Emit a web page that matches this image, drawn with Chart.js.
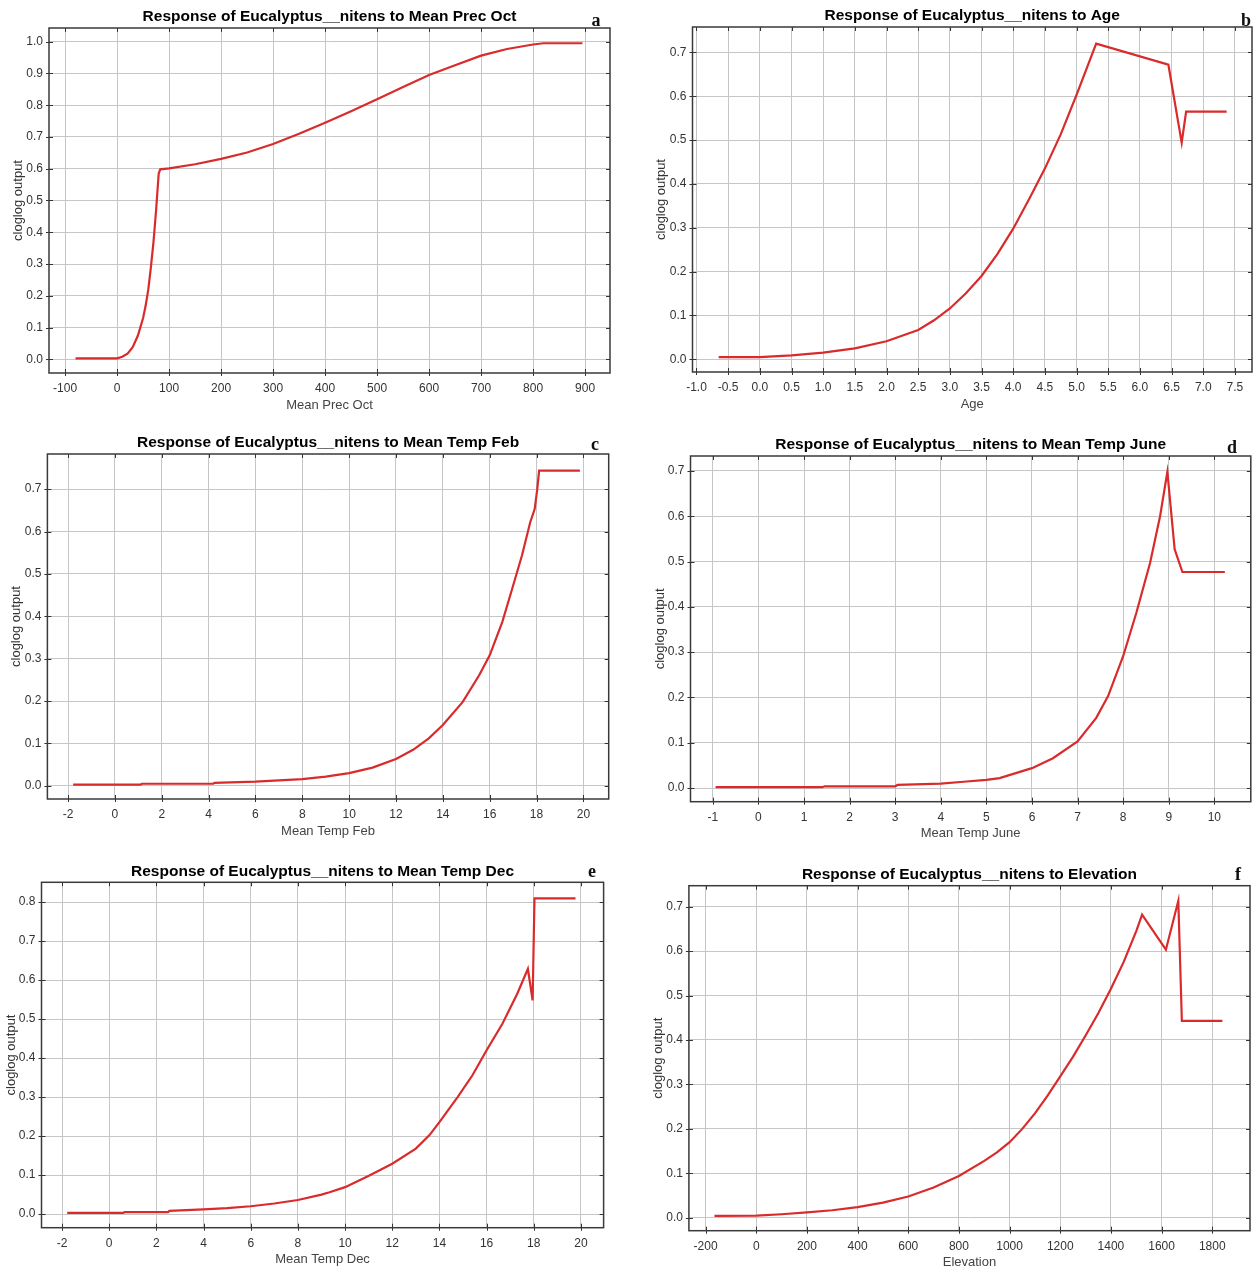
<!DOCTYPE html>
<html><head><meta charset="utf-8">
<script src="https://cdn.jsdelivr.net/npm/chart.js@4.4.1/dist/chart.umd.min.js"></script>
<style>
html,body{margin:0;padding:0;background:#fff;}
body{width:1254px;height:1270px;position:relative;overflow:hidden;}
canvas{position:absolute;}
.letter{position:absolute;font:bold 18px "Liberation Serif","DejaVu Serif",serif;color:#111;transform:translate(-50%,-50%);line-height:1;}
</style></head><body>
<script>
// ---------- text ----------
const yAxisTitle = 'cloglog output';
const titles = [
  'Response of Eucalyptus__nitens to Mean Prec Oct',
  'Response of Eucalyptus__nitens to Age',
  'Response of Eucalyptus__nitens to Mean Temp Feb',
  'Response of Eucalyptus__nitens to Mean Temp June',
  'Response of Eucalyptus__nitens to Mean Temp Dec',
  'Response of Eucalyptus__nitens to Elevation'
];
const xTitles = ['Mean Prec Oct','Age','Mean Temp Feb','Mean Temp June','Mean Temp Dec','Elevation'];
const panelLetters = ['a','b','c','d','e','f'];

// ---------- data ----------
const precOctX = [-80,-40,0,10,20,30,40,50,55,60,65,70,75,80,83,100,150,200,250,300,350,400,450,500,550,600,650,700,750,800,820,895];
const precOctY = [0.003,0.003,0.003,0.008,0.018,0.038,0.075,0.13,0.17,0.22,0.29,0.37,0.47,0.585,0.598,0.601,0.614,0.631,0.651,0.678,0.71,0.745,0.781,0.819,0.857,0.895,0.926,0.956,0.977,0.991,0.995,0.995];

const ageX = [-0.65,0,0.5,1.0,1.5,2.0,2.5,2.75,3.0,3.25,3.5,3.75,4.0,4.25,4.5,4.75,5.0,5.31,6.45,6.66,6.73,7.37];
const ageY = [0.005,0.005,0.009,0.015,0.025,0.041,0.067,0.089,0.116,0.15,0.19,0.24,0.298,0.365,0.435,0.513,0.603,0.72,0.672,0.494,0.565,0.565];

const tempFebX = [-1.78,1.1,1.15,4.2,4.25,6,7,8,9,10,11,12,12.73,13.4,14,14.85,15.55,16,16.54,16.96,17.38,17.73,17.92,18.03,18.11,19.85];
const tempFebY = [0.003,0.003,0.005,0.005,0.007,0.010,0.013,0.016,0.022,0.030,0.043,0.0635,0.085,0.112,0.1435,0.198,0.261,0.308,0.387,0.465,0.544,0.622,0.653,0.70,0.744,0.744];

const tempJuneX = [-0.94,1.4,1.45,3.0,3.05,4,4.5,5,5.29,6,6.46,7,7.41,7.67,8,8.29,8.59,8.81,8.97,9.13,9.3,10.23];
const tempJuneY = [0.002,0.002,0.004,0.004,0.007,0.010,0.014,0.018,0.022,0.044,0.066,0.103,0.155,0.203,0.291,0.387,0.497,0.60,0.698,0.527,0.477,0.477];

const tempDecX = [-1.78,0.6,0.65,2.5,2.55,4,5,6,7,8,9,9.34,10,11.03,12,13,13.57,14,14.77,15.4,16,16.67,17.3,17.75,17.95,18.03,19.77];
const tempDecY = [0.003,0.003,0.005,0.005,0.008,0.012,0.015,0.020,0.027,0.036,0.05,0.056,0.069,0.099,0.129,0.168,0.202,0.236,0.30,0.356,0.42,0.488,0.565,0.629,0.548,0.81,0.81];

const elevX = [-165,0,100,200,300,400,500,600,700,800,900,950,1000,1050,1100,1150,1200,1250,1300,1350,1400,1450,1500,1523,1617,1666,1680,1840];
const elevY = [0.0045,0.005,0.008,0.012,0.017,0.024,0.034,0.048,0.068,0.094,0.128,0.147,0.17,0.2,0.235,0.275,0.318,0.362,0.41,0.46,0.515,0.575,0.645,0.682,0.603,0.713,0.443,0.443];

const seriesX = [precOctX, ageX, tempFebX, tempJuneX, tempDecX, elevX];
const seriesY = [precOctY, ageY, tempFebY, tempJuneY, tempDecY, elevY];

// axis ranges and tick steps
const xMins = [-131, -1.063, -2.88, -1.49, -2.87, -266];
const xMaxs = [948, 7.77, 21.08, 10.80, 20.96, 1949];
const xSteps = [100, 0.5, 2, 1, 2, 200];
const xDecimals = [0, 1, 0, 0, 0, 0];
const yMins = [-0.043, -0.029, -0.031, -0.030, -0.035, -0.029];
const yMaxs = [1.043, 0.758, 0.783, 0.733, 0.851, 0.747];
const yStep = 0.1;

// ---------- layout (pixels) ----------
const layouts = [
  {box:[0,0,624,420],     L:49,    T:28,    R:610,    B:373,    titleY:17,    xTitleY:405,    yTitleX:18,    letter:[596,20]},
  {box:[630,0,624,420],   L:692.5, T:27,    R:1252,   B:372,    titleY:16,    xTitleY:404,    yTitleX:661,   letter:[1246,20]},
  {box:[0,425,624,420],   L:47.4,  T:454,   R:608.7,  B:799,    titleY:442.3, xTitleY:831,    yTitleX:16,    letter:[595,444]},
  {box:[630,425,624,420], L:690.5, T:456,   R:1250.8, B:801.7,  titleY:445,   xTitleY:833,    yTitleX:660,   letter:[1232,447]},
  {box:[0,850,624,420],   L:41.5,  T:882.3, R:603.6,  B:1227.7, titleY:871.7, xTitleY:1259,   yTitleX:11,    letter:[592,871]},
  {box:[630,850,624,420], L:688.9, T:885.7, R:1250,   B:1231,   titleY:874.3, xTitleY:1262.5, yTitleX:658,   letter:[1238,874]}
];

Chart.defaults.font.family = '"Liberation Sans", Arial, sans-serif';

function stepTicks(scale, step) {
  const out = [];
  for (let k = Math.ceil(scale.min / step - 1e-9); k * step <= scale.max + 1e-9; k++) {
    out.push({value: +(k * step).toFixed(6)});
  }
  scale.ticks = out;
}

const framePlugin = {
  id: 'frame',
  beforeDatasetsDraw(chart) {
    const {ctx, chartArea: {left, top, right, bottom}, scales: {x, y}} = chart;
    ctx.save();
    ctx.strokeStyle = '#333';
    ctx.lineWidth = 1;
    ctx.beginPath();
    x.ticks.forEach(t => {
      const px = Math.round(x.getPixelForValue(t.value)) + 0.5;
      ctx.moveTo(px, top); ctx.lineTo(px, top + 4);
      ctx.moveTo(px, bottom + 3); ctx.lineTo(px, bottom - 4);
    });
    y.ticks.forEach(t => {
      const py = Math.round(y.getPixelForValue(t.value)) + 0.5;
      ctx.moveTo(left - 3, py); ctx.lineTo(left + 4, py);
      ctx.moveTo(right, py); ctx.lineTo(right - 4, py);
    });
    ctx.stroke();
    ctx.lineWidth = 1.5;
    ctx.strokeStyle = '#3a3a3a';
    ctx.strokeRect(left, top, right - left, bottom - top);
    ctx.restore();
  }
};

layouts.forEach((lay, i) => {
  const [bl, bt, bw, bh] = lay.box;
  const cv = document.createElement('canvas');
  cv.width = bw; cv.height = bh;
  cv.style.left = bl + 'px'; cv.style.top = bt + 'px';
  cv.style.width = bw + 'px'; cv.style.height = bh + 'px';
  document.body.appendChild(cv);

  const lt = document.createElement('div');
  lt.className = 'letter';
  lt.textContent = panelLetters[i];
  lt.style.left = lay.letter[0] + 'px';
  lt.style.top = lay.letter[1] + 'px';
  document.body.appendChild(lt);

  const axisFont = 12, axisLH = axisFont * 1.2;
  const axisTitleFont = 13, axisTitleLH = axisTitleFont * 1.2;
  const titleFont = 15.5, titleLH = titleFont * 1.2;
  const yTitleLeft = lay.yTitleX - axisTitleLH / 2;
  const padLeft = yTitleLeft - bl;
  const yAxisW = lay.L - yTitleLeft;
  const padRight = bl + bw - lay.R;
  const padTop = Math.max(0, lay.titleY - titleLH / 2 - bt);
  const titlePadBottom = lay.T - bt - padTop - titleLH;
  const xAxisH = lay.xTitleY + axisTitleLH / 2 - lay.B;
  const padBottom = Math.max(0, bt + bh - (lay.xTitleY + axisTitleLH / 2));
  const xTickPad = 15.5 - axisLH / 2;

  const pts = seriesX[i].map((xv, k) => ({x: xv, y: seriesY[i][k]}));
  const dec = xDecimals[i];
  const xs = xSteps[i];

  new Chart(cv, {
    type: 'line',
    data: {datasets: [{
      data: pts,
      borderColor: '#d92b2b',
      borderWidth: 2.2,
      pointRadius: 0,
      fill: false,
      tension: 0
    }]},
    options: {
      responsive: false,
      animation: false,
      layout: {padding: {left: padLeft, right: padRight, top: padTop, bottom: padBottom}},
      plugins: {
        legend: {display: false},
        tooltip: {enabled: false},
        title: {
          display: true, text: titles[i], fullSize: false,
          color: '#000', font: {size: titleFont, weight: 'bold'},
          padding: {top: 0, bottom: titlePadBottom}
        }
      },
      scales: {
        x: {
          type: 'linear', position: 'bottom',
          min: xMins[i], max: xMaxs[i],
          afterFit: s => { s.height = xAxisH; },
          afterBuildTicks: s => stepTicks(s, xs),
          ticks: {padding: xTickPad, maxRotation: 0, autoSkip: false,
                  color: '#333', font: {size: axisFont},
                  callback: v => Number(v).toFixed(dec)},
          grid: {color: '#c6c6c6', lineWidth: 1, drawTicks: false},
          border: {display: false},
          title: {display: true, text: xTitles[i], color: '#444', font: {size: axisTitleFont}, padding: {top: 0, bottom: 0}}
        },
        y: {
          type: 'linear', position: 'left',
          min: yMins[i], max: yMaxs[i],
          afterFit: s => { s.width = yAxisW; },
          afterBuildTicks: s => stepTicks(s, yStep),
          ticks: {padding: 6, autoSkip: false, color: '#333', font: {size: axisFont},
                  callback: v => Number(v).toFixed(1)},
          grid: {color: '#c6c6c6', lineWidth: 1, drawTicks: false},
          border: {display: false},
          title: {display: true, text: yAxisTitle, color: '#333', font: {size: axisTitleFont}, padding: {top: 0, bottom: 0}}
        }
      }
    },
    plugins: [framePlugin]
  });
});
</script>
</body></html>
